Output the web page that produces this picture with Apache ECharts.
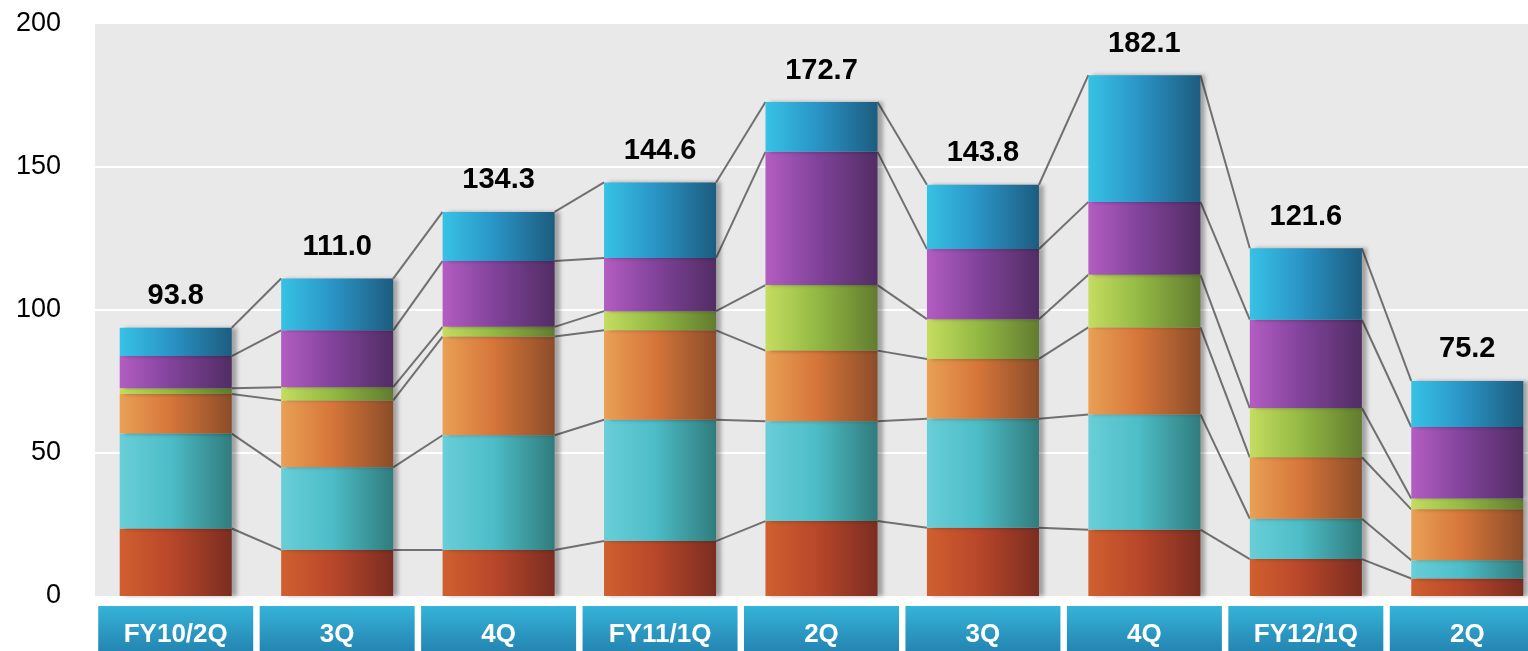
<!DOCTYPE html>
<html>
<head>
<meta charset="utf-8">
<script src="https://cdn.jsdelivr.net/npm/echarts/dist/echarts.min.js"></script>
<style>
  html, body { margin: 0; padding: 0; background: #ffffff; }
  #chart { width: 1528px; height: 651px; }
</style>
</head>
<body>
<div id="chart"></div>
<script>
// Quarter categories along the bottom
const categories = ['FY10/2Q', '3Q', '4Q', 'FY11/1Q', '2Q', '3Q', '4Q', 'FY12/1Q', '2Q'];

// Stacked segments, bottom to top
const segRed    = [23.6, 16.1, 16.1, 19.2, 26.2, 23.9, 23.2, 12.9, 6.1];
const segCyan   = [33.2, 28.9, 40.1, 42.4, 34.9, 38.1, 40.3, 14.1, 6.4];
const segOrange = [13.8, 23.4, 34.5, 31.3, 24.7, 20.9, 30.4, 21.5, 17.8];
const segGreen  = [2.0, 4.6, 3.4, 6.7, 22.9, 13.9, 18.4, 17.2, 3.8];
const segPurple = [11.3, 19.9, 23.0, 18.6, 46.6, 24.5, 25.5, 30.9, 25.0];
const segBlue   = [9.9, 18.1, 17.2, 26.4, 17.4, 22.5, 44.3, 25.0, 16.1];

// Value axis
const yMin = 0;
const yMax = 200;
const yStep = 50;

const FONT = '"Liberation Sans", Arial, Helvetica, sans-serif';
const BAR_RATIO = 0.694;

const segments = [segRed, segCyan, segOrange, segGreen, segPurple, segBlue];
const totals = categories.map((_, i) => segments.reduce((s, arr) => s + arr[i], 0));

// cumulative top of each segment, per category
const cumulative = categories.map((_, i) => {
  let acc = 0;
  return segments.map(arr => (acc += arr[i]));
});

const G = echarts.graphic.LinearGradient;
const palettes = [
  ['#d0602f', '#b9472a', '#7b2d21'],
  ['#69ced8', '#4dbdc7', '#307c7d'],
  ['#e9a055', '#d6763a', '#8c4c29'],
  ['#c4dd60', '#94b944', '#617c2f'],
  ['#b35dc2', '#82439b', '#512d64'],
  ['#37c2e5', '#2a95c7', '#1d5c7f']
];

function barFill(p) {
  return new G(0, 0, 1, 0, [
    { offset: 0, color: p[0] },
    { offset: 0.45, color: p[1] },
    { offset: 1, color: p[2] }
  ]);
}

const barSeries = segments.map((arr, k) => ({
  type: 'bar',
  name: 'seg' + k,
  stack: 'total',
  data: arr,
  barWidth: (BAR_RATIO * 100) + '%',
  z: 3,
  itemStyle: {
    color: barFill(palettes[k]),
    shadowColor: 'rgba(0,0,0,0.30)',
    shadowBlur: 4,
    shadowOffsetX: 5,
    shadowOffsetY: 0
  },
  label: k === segments.length - 1 ? {
    show: true,
    position: 'top',
    distance: 17,
    formatter: p => totals[p.dataIndex].toFixed(1),
    color: '#000',
    fontFamily: FONT,
    fontWeight: 'bold',
    fontSize: 29
  } : { show: false },
  emphasis: { disabled: true }
}));

// Series lines joining each segment top between neighbouring bars
const connectorSeries = {
  type: 'custom',
  z: 1,
  silent: true,
  data: categories.map((_, i) => [i, totals[i]]),
  encode: { x: 0, y: 1 },
  renderItem: function (params, api) {
    const i = params.dataIndex;
    if (i >= categories.length - 1) return null;
    const half = api.size([1, 0])[0] * BAR_RATIO / 2;
    const children = [];
    for (let k = 0; k < segments.length; k++) {
      const a = api.coord([i, cumulative[i][k]]);
      const b = api.coord([i + 1, cumulative[i + 1][k]]);
      children.push({
        type: 'line',
        shape: { x1: a[0] + half, y1: a[1], x2: b[0] - half, y2: b[1] },
        style: { stroke: '#707070', lineWidth: 2 }
      });
    }
    return { type: 'group', children: children };
  }
};

const chart = echarts.init(document.getElementById('chart'), null, { renderer: 'canvas' });

chart.setOption({
  animation: false,
  backgroundColor: '#ffffff',
  grid: {
    left: 95,
    right: -20,
    top: 24,
    bottom: 55,
    outerBoundsMode: 'none',
    containLabel: false,
    show: true,
    backgroundColor: '#e9e9e9',
    borderWidth: 0
  },
  xAxis: {
    type: 'category',
    data: categories,
    axisLine: { show: false },
    axisTick: { show: false },
    splitLine: { show: false },
    axisLabel: {
      interval: 0,
      margin: 10,
      color: '#ffffff',
      fontFamily: FONT,
      fontWeight: 'bold',
      fontSize: 26,
      width: 155,
      height: 58,
      lineHeight: 58,
      align: 'center',
      verticalAlign: 'top',
      padding: 0,
      backgroundColor: new G(0, 0, 0, 1, [
        { offset: 0, color: '#36b3d8' },
        { offset: 1, color: '#1f78a8' }
      ])
    }
  },
  yAxis: {
    type: 'value',
    min: yMin,
    max: yMax,
    interval: yStep,
    axisLine: { show: false },
    axisTick: { show: false },
    axisLabel: {
      margin: 34,
      color: '#000000',
      fontFamily: FONT,
      fontSize: 27
    },
    splitLine: {
      show: true,
      showMinLine: false,
      showMaxLine: false,
      lineStyle: { color: '#ffffff', width: 2 }
    }
  },
  series: [connectorSeries].concat(barSeries)
});
</script>
</body>
</html>
